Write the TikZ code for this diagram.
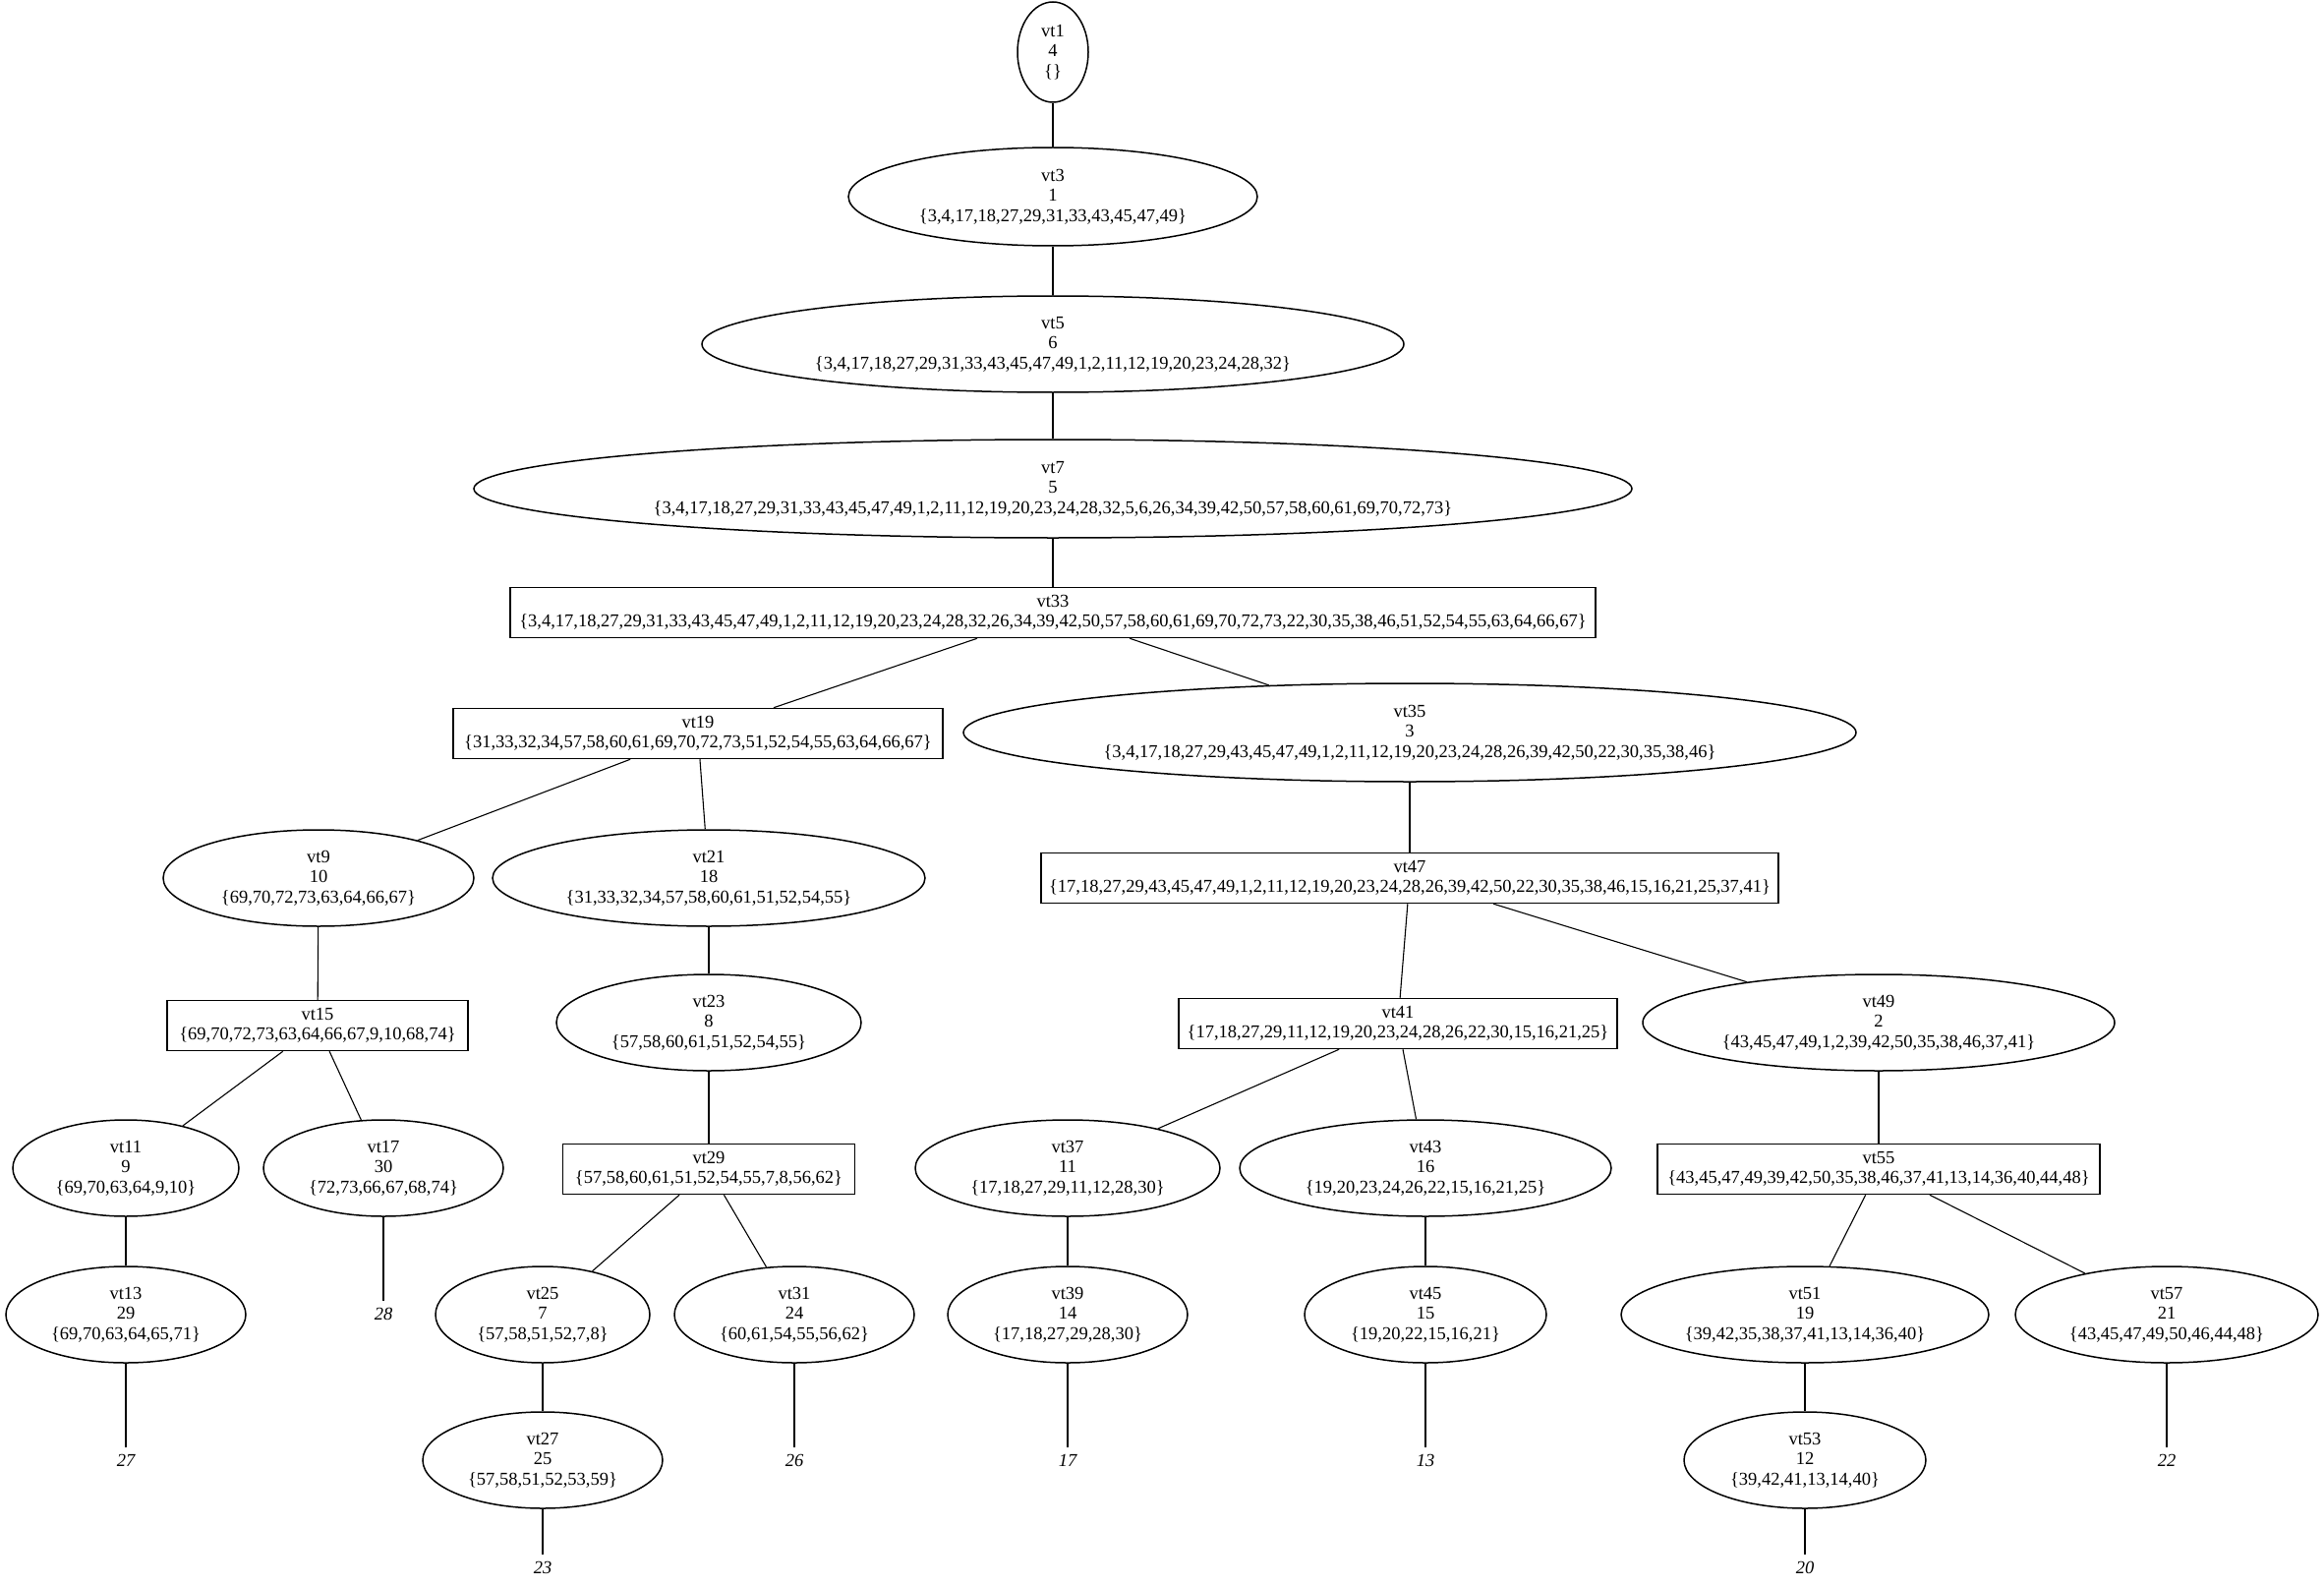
\documentclass[tikz,border=0pt]{standalone}
\usepackage{fontspec}
\setmainfont{Liberation Serif}
\usetikzlibrary{shapes.geometric}

\begin{document}
\begin{tikzpicture}[x=1pt,y=-1pt,line width=1.1pt,
    every node/.style={font=\fontsize{18.5}{20.5}\selectfont,align=center,inner sep=0pt},
    bag/.style={draw,ellipse,line width=1.5pt},
    cut/.style={draw,rectangle,line width=1.5pt,minimum height=51pt},
    leaf/.style={font=\fontsize{18.5}{20.5}\selectfont\itshape,inner sep=6pt}]
    \useasboundingbox (0,0) rectangle (2364,1613);

    \node[bag,minimum width=72pt,minimum height=102pt] (vt1) at (1071,53) {vt1\\4\\\{\}};
    \node[bag,minimum width=416pt,minimum height=100pt] (vt3) at (1071,200) {vt3\\1\\\{3,4,17,18,27,29,31,33,43,45,47,49\}};
    \node[bag,minimum width=714pt,minimum height=98pt] (vt5) at (1071,350) {vt5\\6\\\{3,4,17,18,27,29,31,33,43,45,47,49,1,2,11,12,19,20,23,24,28,32\}};
    \node[bag,minimum width=1178pt,minimum height=100pt] (vt7) at (1071,497) {vt7\\5\\\{3,4,17,18,27,29,31,33,43,45,47,49,1,2,11,12,19,20,23,24,28,32,5,6,26,34,39,42,50,57,58,60,61,69,70,72,73\}};
    \node[cut,minimum width=1104pt] (vt33) at (1071,623) {vt33\\\{3,4,17,18,27,29,31,33,43,45,47,49,1,2,11,12,19,20,23,24,28,32,26,34,39,42,50,57,58,60,61,69,70,72,73,22,30,35,38,46,51,52,54,55,63,64,66,67\}};

    \node[cut,minimum width=498pt] (vt19) at (710,746) {vt19\\\{31,33,32,34,57,58,60,61,69,70,72,73,51,52,54,55,63,64,66,67\}};
    \node[bag,minimum width=908pt,minimum height=100pt] (vt35) at (1434,745) {vt35\\3\\\{3,4,17,18,27,29,43,45,47,49,1,2,11,12,19,20,23,24,28,26,39,42,50,22,30,35,38,46\}};

    \node[bag,minimum width=316pt,minimum height=98pt] (vt9) at (324,893) {vt9\\10\\\{69,70,72,73,63,64,66,67\}};
    \node[bag,minimum width=440pt,minimum height=98pt] (vt21) at (721,893) {vt21\\18\\\{31,33,32,34,57,58,60,61,51,52,54,55\}};
    \node[cut,minimum width=750pt] (vt47) at (1434,893) {vt47\\\{17,18,27,29,43,45,47,49,1,2,11,12,19,20,23,24,28,26,39,42,50,22,30,35,38,46,15,16,21,25,37,41\}};

    \node[cut,minimum width=306pt] (vt15) at (323,1043) {vt15\\\{69,70,72,73,63,64,66,67,9,10,68,74\}};
    \node[bag,minimum width=310pt,minimum height=98pt] (vt23) at (721,1040) {vt23\\8\\\{57,58,60,61,51,52,54,55\}};
    \node[cut,minimum width=446pt] (vt41) at (1422,1041) {vt41\\\{17,18,27,29,11,12,19,20,23,24,28,26,22,30,15,16,21,25\}};
    \node[bag,minimum width=480pt,minimum height=98pt] (vt49) at (1911,1040) {vt49\\2\\\{43,45,47,49,1,2,39,42,50,35,38,46,37,41\}};

    \node[bag,minimum width=230pt,minimum height=98pt] (vt11) at (128,1188) {vt11\\9\\\{69,70,63,64,9,10\}};
    \node[bag,minimum width=244pt,minimum height=98pt] (vt17) at (390,1188) {vt17\\30\\\{72,73,66,67,68,74\}};
    \node[cut,minimum width=297pt] (vt29) at (721,1189) {vt29\\\{57,58,60,61,51,52,54,55,7,8,56,62\}};
    \node[bag,minimum width=310pt,minimum height=98pt] (vt37) at (1086,1188) {vt37\\11\\\{17,18,27,29,11,12,28,30\}};
    \node[bag,minimum width=378pt,minimum height=98pt] (vt43) at (1450,1188) {vt43\\16\\\{19,20,23,24,26,22,15,16,21,25\}};
    \node[cut,minimum width=450pt] (vt55) at (1911,1189) {vt55\\\{43,45,47,49,39,42,50,35,38,46,37,41,13,14,36,40,44,48\}};

    \node[bag,minimum width=244pt,minimum height=98pt] (vt13) at (128,1337) {vt13\\29\\\{69,70,63,64,65,71\}};
    \node[bag,minimum width=218pt,minimum height=98pt] (vt25) at (552,1337) {vt25\\7\\\{57,58,51,52,7,8\}};
    \node[bag,minimum width=244pt,minimum height=98pt] (vt31) at (808,1337) {vt31\\24\\\{60,61,54,55,56,62\}};
    \node[bag,minimum width=244pt,minimum height=98pt] (vt39) at (1086,1337) {vt39\\14\\\{17,18,27,29,28,30\}};
    \node[bag,minimum width=246pt,minimum height=98pt] (vt45) at (1450,1337) {vt45\\15\\\{19,20,22,15,16,21\}};
    \node[bag,minimum width=374pt,minimum height=98pt] (vt51) at (1836,1337) {vt51\\19\\\{39,42,35,38,37,41,13,14,36,40\}};
    \node[bag,minimum width=308pt,minimum height=98pt] (vt57) at (2204,1337) {vt57\\21\\\{43,45,47,49,50,46,44,48\}};

    \node[bag,minimum width=244pt,minimum height=98pt] (vt27) at (552,1485) {vt27\\25\\\{57,58,51,52,53,59\}};
    \node[bag,minimum width=246pt,minimum height=98pt] (vt53) at (1836,1485) {vt53\\12\\\{39,42,41,13,14,40\}};

%leaves
    \node[leaf] (l28) at (390,1336) {28};
    \node[leaf] (l27) at (128,1485) {27};
    \node[leaf] (l26) at (808,1485) {26};
    \node[leaf] (l17) at (1086,1485) {17};
    \node[leaf] (l13) at (1450,1485) {13};
    \node[leaf] (l22) at (2204,1485) {22};
    \node[leaf] (l23) at (552,1594) {23};
    \node[leaf] (l20) at (1836,1594) {20};

%edges
    \draw (vt1) -- (vt3);
    \draw (vt3) -- (vt5);
    \draw (vt5) -- (vt7);
    \draw (vt7) -- (vt33);
    \draw (vt33) -- (vt19);
    \draw (vt33) -- (vt35);
    \draw (vt19) -- (vt9);
    \draw (vt19) -- (vt21);
    \draw (vt35) -- (vt47);
    \draw (vt9) -- (vt15);
    \draw (vt21) -- (vt23);
    \draw (vt47) -- (vt41);
    \draw (vt47) -- (vt49);
    \draw (vt15) -- (vt11);
    \draw (vt15) -- (vt17);
    \draw (vt23) -- (vt29);
    \draw (vt41) -- (vt37);
    \draw (vt41) -- (vt43);
    \draw (vt49) -- (vt55);
    \draw (vt11) -- (vt13);
    \draw (vt17) -- (l28);
    \draw (vt29) -- (vt25);
    \draw (vt29) -- (vt31);
    \draw (vt37) -- (vt39);
    \draw (vt43) -- (vt45);
    \draw (vt55) -- (vt51);
    \draw (vt55) -- (vt57);
    \draw (vt13) -- (l27);
    \draw (vt25) -- (vt27);
    \draw (vt31) -- (l26);
    \draw (vt39) -- (l17);
    \draw (vt45) -- (l13);
    \draw (vt51) -- (vt53);
    \draw (vt57) -- (l22);
    \draw (vt27) -- (l23);
    \draw (vt53) -- (l20);

\end{tikzpicture}
\end{document}
